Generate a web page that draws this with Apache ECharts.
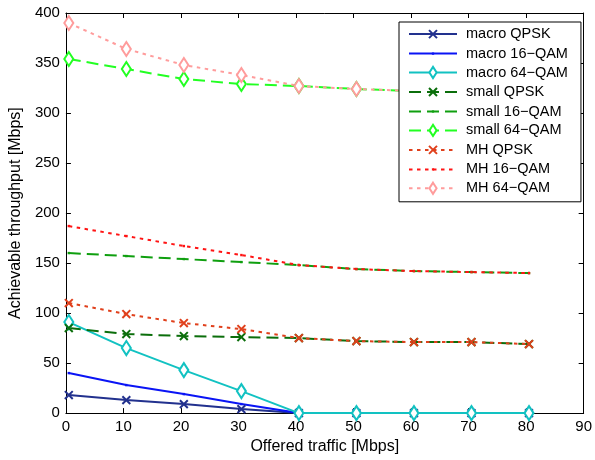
<!DOCTYPE html>
<html>
<head>
<meta charset="utf-8">
<script src="https://cdn.jsdelivr.net/npm/echarts@6/dist/echarts.min.js"></script>
<style>
html,body{margin:0;padding:0;background:#fff;}
#chart{width:595px;height:460px;}
</style>
</head>
<body>
<div id="chart"></div>
<script>
// Offered traffic (x) positions of the samples
var traffic = [0.5, 10.5, 20.5, 30.5, 40.5, 50.5, 60.5, 70.5, 80.5];
// Achievable throughput values
var macroQPSK  = [18, 13, 9, 4, 0, 0, 0, 0, 0];
var macro16QAM = [40, 28, 19, 9, 0, 0, 0, 0, 0];
var macro64QAM = [91, 65, 43, 22, 0, 0, 0, 0, 0];
var smallQPSK  = [85, 79, 77, 76, 75, 72, 71, 71, 69];
var small16QAM = [160, 157, 154, 151, 148, 144, 142, 141, 140];
var small64QAM = [354, 344, 334, 329, 327, 324, 322, 321, 320];
var mhQPSK     = [110, 99, 90, 84, 75, 72, 71, 71, 69];
var mh16QAM    = [187, 177, 167, 158, 148, 144, 142, 141, 140];
var mh64QAM    = [390, 364, 348, 338, 327, 324, 322, 321, 320];
var xTicks = {min: 0, max: 90, interval: 10};
var yTicks = {min: 0, max: 400, interval: 50};

var FONT = 'Liberation Sans, Arial, sans-serif';
// marker shapes drawn inside a padded 14x14 (or 10x10) box
var CROSS = 'path://M0,0M14,14M2,2L12,12M12,2L2,12';
var DOTM = 'path://M0,0M10,10M4,4L6,4L6,6L4,6Z';
var DIAM = 'path://M0,0M14,14M7,0L11.5,7L7,14L2.5,7Z';

function pairs(vals){ return traffic.map(function(x,i){ return [x, vals[i]]; }); }

function mk(name, vals, color, dash, symbol){
  var s = {
    name: name, type: 'line', data: pairs(vals),
    lineStyle: {color: color, width: 2, type: dash},
    showSymbol: true, animation: false
  };
  if (symbol === 'x') {
    s.symbol = CROSS; s.symbolSize = 11;
    s.itemStyle = {color: 'none', borderColor: color, borderWidth: 2};
  } else if (symbol === 'd') {
    s.symbol = DIAM; s.symbolSize = 14;
    s.itemStyle = {color: '#fff', borderColor: color, borderWidth: 2};
  } else {
    s.symbol = DOTM; s.symbolSize = 12;
    s.itemStyle = {color: color, borderColor: color, borderWidth: 0};
  }
  return s;
}

var DASH = [12, 6];
var DOT = [3.5, 4.5];
var series = [
  mk('macro QPSK',  macroQPSK,  '#22318e', 'solid', 'x'),
  mk('macro 16\u2212QAM', macro16QAM, '#0a14f5', 'solid', '.'),
  mk('macro 64\u2212QAM', macro64QAM, '#12c2c2', 'solid', 'd'),
  mk('small QPSK',  smallQPSK,  '#0b6e0b', DASH, 'x'),
  mk('small 16\u2212QAM', small16QAM, '#0f9f0f', DASH, '.'),
  mk('small 64\u2212QAM', small64QAM, '#22ff22', DASH, 'd'),
  mk('MH QPSK',     mhQPSK,     '#e0401c', DOT, 'x'),
  mk('MH 16\u2212QAM',    mh16QAM,    '#ff1414', DOT, '.'),
  mk('MH 64\u2212QAM',    mh64QAM,    '#ff9c9c', DOT, 'd')
];

function axisBase(t, pos, showLabel){
  return {
    type: 'value', min: t.min, max: t.max, interval: t.interval, position: pos,
    axisLine: {show: true, onZero: false, lineStyle: {color: '#000', width: 1}},
    axisTick: {show: true, inside: true, length: 5, lineStyle: {color: '#000', width: 1}},
    axisLabel: {show: showLabel, color: '#000', fontSize: 15, fontFamily: FONT, margin: 6},
    splitLine: {show: false}
  };
}

var xb = axisBase(xTicks, 'bottom', true);
xb.name = 'Offered traffic [Mbps]';
xb.nameLocation = 'middle'; xb.nameGap = 24;
xb.nameTextStyle = {color: '#000', fontSize: 16, fontFamily: FONT};
var xt = axisBase(xTicks, 'top', false);
var yl = axisBase(yTicks, 'left', true);
yl.name = 'Achievable throughput [Mbps]';
yl.nameLocation = 'middle'; yl.nameGap = 39;
yl.nameTextStyle = {color: '#000', fontSize: 16, fontFamily: FONT};
var yr = axisBase(yTicks, 'right', false);

var chart = echarts.init(document.getElementById('chart'), null, {renderer: 'canvas'});
chart.setOption({
  animation: false,
  backgroundColor: '#fff',
  textStyle: {fontFamily: FONT},
  grid: {left: 65, right: 9, top: 13, bottom: 44, containLabel: false},
  xAxis: [xb, xt],
  yAxis: [yl, yr],
  legend: {
    orient: 'vertical', left: 399, top: 22,
    itemWidth: 48, itemHeight: 14, itemGap: 3.9,
    padding: [4, 13, 6, 9],
    backgroundColor: '#fff', borderColor: '#000', borderWidth: 1,
    textStyle: {color: '#000', fontSize: 14.5, fontFamily: FONT, padding: [0, 0, 0, 4]},
    data: series.map(function(s){ return s.name; })
  },
  series: series
});
</script>
</body>
</html>
